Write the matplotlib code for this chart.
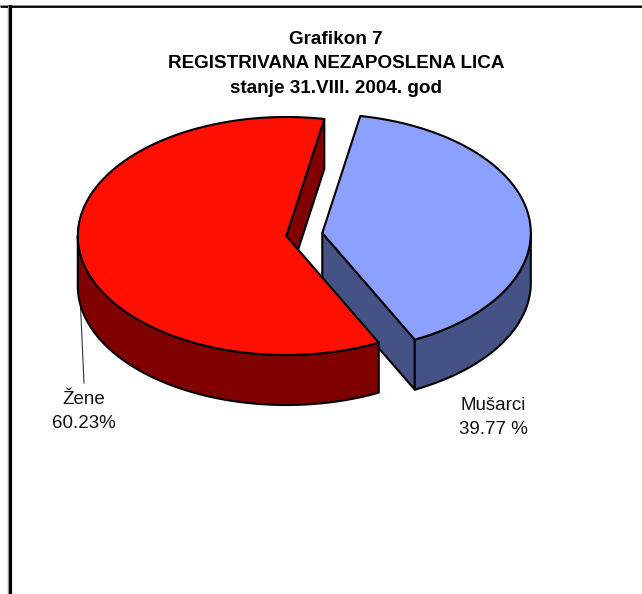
import numpy as np
import matplotlib
matplotlib.use("Agg")
import matplotlib.pyplot as plt
from matplotlib.patches import Polygon

plt.rcParams['font.family'] = ['Liberation Sans', 'DejaVu Sans']

title_lines = ["Grafikon 7", "REGISTRIVANA NEZAPOSLENA LICA", "stanje 31.VIII. 2004. god"]
categories = ["Žene", "Mušarci"]
values = [60.23, 39.77]
value_labels = ["60.23%", "39.77 %"]
top_colors = ["#FF1000", "#8CA0FF"]
side_colors = ["#800000", "#445285"]

W, H = 642, 594
fig = plt.figure(figsize=(W / 100, H / 100), dpi=100)
ax = fig.add_axes([0, 0, 1, 1])
ax.set_xlim(0, W)
ax.set_ylim(H, 0)
ax.axis("off")

RX, RY, DEPTH = 208.5, 119.0, 50.0
START = 79.5
centers = [(286.3, 236.0), (322.3, 233.0)]
LW = 1.5


def arc(c, a0, a1, n=200):
    t = np.radians(np.linspace(a0, a1, n))
    return np.column_stack([c[0] + RX * np.cos(t), c[1] - RY * np.sin(t)])


def poly(pts, fc, z):
    ax.add_patch(Polygon(pts, closed=True, facecolor=fc, edgecolor="black",
                         linewidth=LW, joinstyle="round", zorder=z))


spans = [v / sum(values) * 360 for v in values]
a_red0, a_red1 = START, START + spans[0]
a_blue0, a_blue1 = a_red1, a_red1 + spans[1]

# leader line
ax.plot([77.5, 84], [240, 383], color="#333333", lw=0.8, zorder=1)

# blue slice (behind)
c = centers[1]
down = np.array([0, DEPTH])
edge = arc(c, a_blue0, a_blue1)[0]
poly([c, edge, edge + down, np.array(c) + down], side_colors[1], 2)
side = arc(c, a_blue0, 360)
poly(np.vstack([side, (side + down)[::-1]]), side_colors[1], 2)
poly(np.vstack([[c], arc(c, a_blue0, a_blue1)]), top_colors[1], 3)

# red slice (front)
c = centers[0]
edge = arc(c, a_red0, a_red1)[0]
poly([c, edge, edge + down, np.array(c) + down], side_colors[0], 4)
side = arc(c, 180, a_red1)
poly(np.vstack([side, (side + down)[::-1]]), side_colors[0], 4)
poly(np.vstack([[c], arc(c, a_red0, a_red1)]), top_colors[0], 5)

# frame
ax.plot([0, W], [6.2, 6.2], color="black", lw=2.0, zorder=6, solid_capstyle="butt")
ax.plot([0, W], [4.5, 4.5], color="#999999", lw=0.7, zorder=6, solid_capstyle="butt")
ax.plot([10, 10], [5, H], color="black", lw=3.0, zorder=6, solid_capstyle="butt")
ax.plot([7.6, 7.6], [5, H], color="#999999", lw=0.7, zorder=6, solid_capstyle="butt")

# title
for line, y in zip(title_lines, [39.5, 63.5, 88.5]):
    ax.text(336, y, line, ha="center", va="center", fontsize=13.6,
            fontweight="bold", color="black", zorder=7)

# labels
ax.text(84, 400, categories[0], ha="center", va="center", fontsize=13.5, color="#111111", zorder=7)
ax.text(84, 423.5, value_labels[0], ha="center", va="center", fontsize=13.5, color="#111111", zorder=7)
ax.text(493.5, 405, categories[1], ha="center", va="center", fontsize=13.5, color="#111111", zorder=7)
ax.text(493.5, 429.5, value_labels[1], ha="center", va="center", fontsize=13.5, color="#111111", zorder=7)

fig.savefig("out.png", dpi=100)
